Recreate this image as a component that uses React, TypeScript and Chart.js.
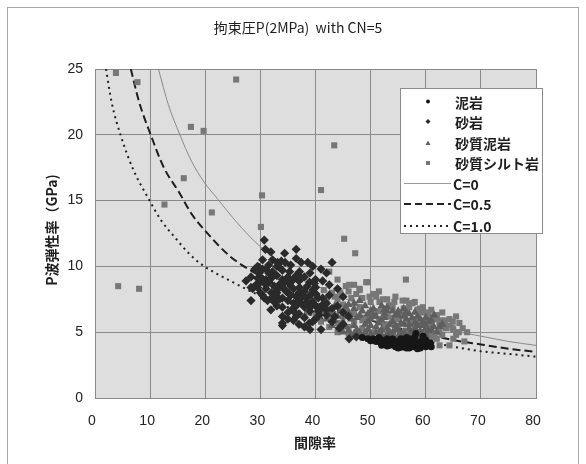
import React, { useEffect, useRef } from "react";
import { Chart, registerables } from "chart.js";
Chart.register(...registerables);

const titleText = "拘束圧P(2MPa)  with CN=5";
const xTitle = "間隙率";
const yTitle = "P波弾性率（GPa)";
const xRange = [0, 80];
const yRange = [0, 25];
const xStep = 10;
const yStep = 5;

const seriesNames = ["泥岩", "砂岩", "砂質泥岩", "砂質シルト岩", "C=0", "C=0.5", "C=1.0"];

// 泥岩
const mudstone: number[][] = [
  [48.5, 4.6], [49.5, 4.5], [50.5, 4.5], [51, 4.3], [51.5, 4.6], [52, 4.4], [52.5, 4.2], [53, 4.5],
  [53.5, 4.3], [54, 4.1], [54, 4.5], [54.5, 3.9], [55, 4.3], [55, 4.0], [55.5, 4.5], [56, 3.9],
  [56, 4.2], [56.5, 4.4], [57, 3.8], [57, 4.1], [57.5, 4.3], [58, 3.9], [58, 4.6], [58.5, 4.1],
  [59, 3.8], [59, 4.3], [59.5, 4.0], [60, 3.9], [60, 4.4], [60.5, 4.1], [61, 3.9], [52, 4.0],
  [53, 3.95], [55.5, 3.85], [57.5, 3.9], [58.5, 3.75], [60.8, 4.2], [50, 4.35], [56.5, 4.6],
  [58.2, 4.9], [59.5, 4.7], [53.5, 4.0], [54.5, 4.3], [56, 4.0], [57, 4.5], [58, 4.2], [59, 4.1],
  [60, 4.15], [55, 3.8], [56.5, 3.8], [51.5, 4.3],
];

// 砂岩
const sandstone: number[][] = [
  [30.7, 12.0], [30.9, 11.3], [31.9, 11.1], [34.4, 11.0], [36.5, 11.3], [37.4, 10.3], [38.6, 10.3],
  [43.0, 10.3], [30.4, 10.5], [32.2, 10.5], [33.1, 10.3], [33.8, 10.4], [28.3, 9.2], [29.8, 9.9],
  [31.0, 9.8], [32.2, 9.6], [34.0, 9.7], [35.3, 9.6], [37.1, 9.6], [29.2, 8.6], [31.6, 8.8],
  [33.4, 8.6], [35.3, 8.7], [37.1, 8.4], [38.9, 8.8], [28.6, 8.3], [28.3, 7.4], [30.7, 7.6],
  [32.8, 7.8], [34.7, 8.1], [36.5, 7.7], [38.3, 7.6], [40.1, 7.9], [31.9, 6.7], [34.0, 6.9],
  [35.9, 6.8], [37.7, 7.1], [39.5, 7.3], [41.3, 7.6], [34.0, 6.2], [36.5, 6.2], [38.9, 5.7],
  [41.0, 5.2], [34.0, 5.5], [29.5, 10.0], [30.4, 9.8], [29.8, 9.5], [27.4, 8.9], [28.3, 8.4],
  [30.4, 7.8], [31.3, 7.4], [29.5, 8.4], [41.3, 8.9], [42.5, 7.8], [41.3, 7.1], [40.7, 6.3],
  [39.5, 5.8], [44.3, 5.3], [46.1, 4.5], [47.4, 4.65], [34.0, 5.7],
  [30, 9.2], [31, 9.0], [32, 9.1], [33, 9.3], [34, 9.0], [35, 9.2], [36, 9.0], [37, 8.9], [38, 9.2],
  [39, 9.5], [40, 9.0], [31, 8.3], [32, 8.0], [33, 8.2], [34, 8.4], [35, 8.0], [36, 8.3], [37, 8.0],
  [38, 8.1], [39, 7.8], [40, 8.4], [30, 8.0], [32.5, 7.3], [33.5, 7.5], [35, 7.4], [36, 7.2],
  [37, 7.4], [38, 6.9], [39, 6.6], [40, 7.0], [41, 6.8], [42, 7.2], [33, 7.0], [35, 6.5], [37, 6.4],
  [38, 6.1], [40, 6.0], [42, 6.3], [43, 6.8], [44, 7.0], [45, 6.5], [36, 5.9], [38, 5.4], [43, 5.8],
  [45, 5.6], [46, 6.2], [31.5, 10.1], [35.5, 10.1], [36.5, 10.6], [39.5, 10.0], [41, 9.8],
  [42, 9.5], [39.8, 8.7], [42.5, 8.6], [44, 8.3], [45, 7.7],
  [29, 9.8], [30.5, 9.0], [31.5, 9.5], [32.5, 8.5], [33.5, 9.9], [34.5, 8.8], [35.5, 8.5],
  [36.5, 9.3], [37.5, 9.1], [38.5, 8.5], [32, 7.6], [33, 8.0], [34, 7.6], [35.5, 7.8], [36.5, 7.0],
  [37.5, 7.7], [38.5, 7.3], [39.5, 8.2], [40.5, 7.6], [31, 8.6], [30, 8.8], [29.5, 9.1], [33, 10.0],
  [34.5, 10.3], [35, 6.0], [36, 6.6], [39, 6.9], [40.5, 6.6], [42, 6.7], [43.5, 6.2], [37, 5.6],
  [39, 5.2],
];

// 砂質泥岩
const sandyMudstone: number[][] = [
  [42, 6.0], [43, 5.5], [44, 6.2], [44.5, 5.2], [45, 5.8], [46, 6.5], [46, 5.1], [47, 5.5],
  [47.5, 6.1], [48, 5.0], [48.5, 6.6], [49, 5.6], [49.5, 5.2], [50, 6.0], [50.5, 6.8], [51, 5.4],
  [51.5, 5.0], [52, 5.9], [52.5, 6.4], [53, 5.3], [53.5, 5.0], [54, 5.8], [54.5, 6.3], [55, 5.2],
  [55.5, 4.9], [56, 5.6], [56.5, 6.0], [57, 5.3], [57.5, 4.9], [58, 5.7], [58.5, 6.2], [59, 5.1],
  [59.5, 5.5], [60, 4.8], [60.5, 5.8], [61, 5.2], [62, 5.0], [45.5, 6.9], [47, 7.2], [49, 7.0],
  [51, 6.2], [53, 6.9], [55, 6.6], [57, 6.4], [60, 6.1], [43.5, 7.0], [41.5, 6.6], [48, 4.7],
  [52, 4.8], [46.5, 4.8],
  [42.5, 6.4], [43.5, 5.9], [44.5, 6.6], [45.5, 5.4], [46.5, 6.0], [47.5, 5.2], [48, 6.3], [49, 5.0],
  [49.5, 6.4], [50, 5.5], [50.5, 6.2], [51.5, 5.7], [52, 5.2], [52.5, 6.1], [53, 6.6], [53.5, 5.6],
  [54, 5.0], [54.5, 5.5], [55, 6.3], [55.5, 5.7], [56, 5.0], [56.5, 6.5], [57, 5.6], [57.5, 6.1],
  [58, 5.2], [58.5, 5.5], [59, 6.0], [59.5, 5.8], [60, 5.3], [60.5, 5.1], [61, 5.9], [61.5, 5.4],
  [62.5, 5.4], [44, 6.9], [46, 7.1], [48, 7.4], [50, 6.6], [52, 7.0], [54, 6.6], [56, 6.2], [58, 6.5],
  [47, 4.9], [50, 4.8], [53, 4.9], [55, 4.7], [57, 4.8], [59, 4.7],
  [43, 6.7], [45, 5.0], [47, 6.8], [49.5, 5.8], [51, 5.0], [52.5, 6.7], [54.5, 5.2], [56, 6.8],
  [58.5, 5.0], [60, 5.5], [61.5, 6.3], [63, 5.6],
];

// 砂質シルト岩
const sandySiltstone: number[][] = [
  [3.8, 24.7], [7.7, 24.0], [25.6, 24.2], [17.4, 20.6], [19.7, 20.3], [16.1, 16.7], [30.3, 15.4],
  [12.6, 14.7], [21.2, 14.1], [30.1, 13.0], [43.4, 19.2], [41.0, 15.8], [45.2, 12.1], [47.2, 11.0],
  [56.4, 9.0], [49.2, 8.8], [42.5, 9.6], [44.0, 9.0], [4.2, 8.5], [8.0, 8.3],
  [46.1, 8.6], [48, 8.3], [49.5, 8.8], [47.4, 7.9], [51, 7.7], [51.6, 7.3], [53.4, 7.05],
  [55.8, 7.4], [57.6, 7.2], [58.9, 6.8], [60.4, 6.4], [62.5, 5.9], [64.3, 6.0], [64.9, 5.3],
  [66.1, 5.7], [45.5, 8.5], [48, 8.2], [49.8, 7.7], [52.2, 7.5], [54.3, 7.3], [57, 7.2], [58.5, 6.7],
  [60.7, 6.2], [62.5, 5.7], [64.9, 5.8], [66.7, 5.3], [63.7, 5.3], [65.5, 4.8], [67, 4.3], [64.3, 4.0],
  [62.5, 4.0], [43, 8.0], [44, 7.5], [42, 7.0], [40.5, 6.5], [41, 5.8], [43, 6.4], [45, 7.1],
  [46.5, 7.6], [48, 6.9], [50, 7.3], [52, 6.6], [54, 6.9], [56, 6.8], [58, 6.0], [59, 6.5], [61, 5.6],
  [62, 6.3], [63, 4.8], [61.5, 4.6], [46, 5.4], [48.5, 5.9], [50.5, 5.0], [53, 5.6], [55, 6.0],
  [57, 5.8], [59.5, 5.0], [54, 4.8], [56.5, 5.1], [44, 5.0], [42.5, 5.4], [65.5, 6.2], [67.5, 5.0],
  [63, 6.5], [40, 6.3], [39.5, 7.5], [41.5, 8.2], [38.5, 6.5],
  [44.5, 8.0], [46, 8.1], [47, 8.6], [48.5, 7.6], [50.5, 7.9], [51.5, 8.1], [53, 7.5], [54.5, 7.7],
  [56.5, 7.4], [58, 7.3], [59.5, 6.9], [61, 6.7], [62, 6.1], [63.5, 5.9], [64.5, 5.5], [66, 5.0],
  [65, 4.5], [62, 4.5], [60.5, 4.7], [45, 6.2], [47, 6.4], [49, 6.1], [51, 6.6], [53, 6.2], [55, 5.5],
  [57, 6.9], [60, 5.7], [61.5, 6.0], [43.5, 7.7], [42, 7.5],
  [41, 6.9], [42.5, 6.1], [44, 5.7], [45.5, 6.6], [47, 5.8], [48.5, 5.3], [50, 6.3], [51.5, 6.0],
  [52.5, 5.5], [54, 6.1], [55.5, 6.5], [56.5, 5.6], [58, 5.4], [59, 5.6], [60, 6.5], [61, 5.0],
  [62.5, 5.0], [63.5, 5.5], [65, 5.2], [46, 4.9], [49, 4.8],
];

// curves
const curveC0: number[][] = [
  [11.5, 25], [13.3, 22.3], [15.4, 20], [17.5, 18], [19.8, 16.4], [22.3, 15.1], [25, 13.7],
  [28, 12.3], [30, 11.5], [35, 9.9], [40, 8.6], [45, 7.6], [50, 6.8], [55, 6.1], [60, 5.5],
  [65, 5.1], [70, 4.7], [75, 4.3], [80, 4.0],
];
const curveC05: number[][] = [
  [6.5, 25], [8, 22.5], [10.2, 19.9], [12.5, 17.5], [15.3, 15.6], [17.5, 14], [20, 12.7],
  [24.4, 10.8], [29.2, 9.45], [35, 8.1], [40, 7.2], [45, 6.5], [50, 5.9], [55, 5.3], [60.7, 4.8],
  [65, 4.4], [70, 4.07], [75, 3.75], [80, 3.5],
];
const curveC10: number[][] = [
  [2, 25], [3, 22.5], [4.7, 19.9], [7, 17.3], [9.5, 15.3], [12, 13.5], [14.7, 12.1], [17, 11],
  [19.5, 10.1], [25, 8.8], [29.8, 7.8], [35, 6.9], [40, 6.2], [45, 5.6], [50, 5.1], [55, 4.7],
  [60, 4.3], [65, 3.9], [70, 3.55], [75, 3.35], [80, 3.14],
];

const toXY = (a: number[][]) => a.map(([x, y]) => ({ x, y }));

const JP = '"Noto Sans CJK JP", sans-serif';
const NUM = '"Liberation Sans", Arial, sans-serif';

const markerColors = ["#161616", "#2a2a2a", "#5e5e5e", "#777777"];

const framePlugin = {
  id: "frame",
  beforeDraw(chart: any) {
    const { ctx, chartArea: a } = chart;
    ctx.save();
    ctx.fillStyle = "#ffffff";
    ctx.fillRect(0, 0, chart.width, chart.height);
    ctx.strokeStyle = "#a8a8a8";
    ctx.lineWidth = 1;
    ctx.strokeRect(7.5, 7.5, 571, 480);
    ctx.fillStyle = "#dedede";
    ctx.fillRect(a.left, a.top, a.right - a.left, a.bottom - a.top);
    ctx.restore();
  },
  afterDraw(chart: any) {
    const { ctx } = chart;
    ctx.save();
    ctx.fillStyle = "#1e1e1e";
    ctx.textAlign = "center";
    ctx.textBaseline = "middle";
    ctx.font = `14px ${JP}`;
    ctx.fillText(titleText, 298, 28);
    ctx.font = `bold 14px ${JP}`;
    ctx.fillText(xTitle, 315, 443);
    ctx.save();
    ctx.translate(52, 230);
    ctx.rotate(-Math.PI / 2);
    ctx.fillText(yTitle, 0, 0);
    ctx.restore();

    // legend
    const bx = 400.5, by = 88.5, bw = 142, bh = 145;
    ctx.fillStyle = "#ffffff";
    ctx.fillRect(bx, by, bw, bh);
    ctx.strokeStyle = "#8c8c8c";
    ctx.strokeRect(bx, by, bw, bh);
    const rowsY = [101.5, 121.5, 143, 163, 183.5, 204, 226];
    ctx.textAlign = "left";
    ctx.font = `bold 14px ${JP}`;
    seriesNames.forEach((name, i) => {
      const y = rowsY[i];
      const mx = 428;
      ctx.fillStyle = i < 4 ? markerColors[i] : "#222";
      if (i === 0) {
        ctx.beginPath(); ctx.arc(mx, y, 2, 0, Math.PI * 2); ctx.fill();
      } else if (i === 1) {
        ctx.beginPath(); ctx.moveTo(mx, y - 2.5); ctx.lineTo(mx + 2.5, y); ctx.lineTo(mx, y + 2.5); ctx.lineTo(mx - 2.5, y); ctx.closePath(); ctx.fill();
      } else if (i === 2) {
        ctx.beginPath(); ctx.moveTo(mx, y - 2.5); ctx.lineTo(mx + 2.5, y + 2); ctx.lineTo(mx - 2.5, y + 2); ctx.closePath(); ctx.fill();
      } else if (i === 3) {
        ctx.fillRect(mx - 2, y - 2, 4, 4);
      } else {
        ctx.save();
        if (i === 4) { ctx.strokeStyle = "#9a9a9a"; ctx.lineWidth = 1; ctx.setLineDash([]); }
        if (i === 5) { ctx.strokeStyle = "#222"; ctx.lineWidth = 2; ctx.setLineDash([7, 4]); }
        if (i === 6) { ctx.strokeStyle = "#222"; ctx.lineWidth = 2; ctx.setLineDash([2, 4]); }
        ctx.beginPath(); ctx.moveTo(404, y); ctx.lineTo(451, y); ctx.stroke();
        ctx.restore();
      }
      ctx.fillStyle = "#1e1e1e";
      ctx.fillText(name, i < 4 ? 455 : 453, y + 1);
    });
    ctx.restore();
  },
};

export default function App() {
  const ref = useRef<HTMLCanvasElement>(null);
  useEffect(() => {
    if (!ref.current) return;
    const pointDs = (label: string, data: number[][], style: string, r: number, color: string) => ({
      type: "scatter" as const,
      label,
      data: toXY(data),
      pointStyle: style,
      pointRadius: r,
      pointBackgroundColor: color,
      pointBorderColor: color,
      pointBorderWidth: 0,
      showLine: false,
    });
    const lineDs = (label: string, data: number[][], color: string, width: number, dash: number[]) => ({
      type: "line" as const,
      label,
      data: toXY(data),
      borderColor: color,
      borderWidth: width,
      borderDash: dash,
      pointRadius: 0,
      fill: false,
      cubicInterpolationMode: "monotone" as const,
    });
    const chart = new Chart(ref.current, {
      type: "scatter",
      data: {
        datasets: [
          pointDs(seriesNames[0], mudstone, "circle", 3.5, markerColors[0]),
          pointDs(seriesNames[1], sandstone, "rectRot", 4.6, markerColors[1]),
          pointDs(seriesNames[2], sandyMudstone, "triangle", 4.8, markerColors[2]),
          pointDs(seriesNames[3], sandySiltstone, "rect", 4.3, markerColors[3]),
          lineDs(seriesNames[4], curveC0, "#8a8a8a", 1, []),
          lineDs(seriesNames[5], curveC05, "#1e1e1e", 2, [8, 4]),
          lineDs(seriesNames[6], curveC10, "#1e1e1e", 2, [2, 4]),
        ] as any,
      },
      options: {
        responsive: false,
        animation: false,
        layout: { padding: { left: 0, right: 50, top: 69, bottom: 0 } },
        plugins: { legend: { display: false }, title: { display: false }, tooltip: { enabled: false } },
        scales: {
          x: {
            type: "linear",
            min: xRange[0],
            max: xRange[1],
            afterFit: (s: any) => { s.height = 66; },
            ticks: { stepSize: xStep, padding: 15, color: "#222", font: { family: NUM, size: 14 }, labelOffset: -3 },
            grid: { color: "#8a8a8a", lineWidth: 1, drawTicks: false },
            border: { color: "#8a8a8a" },
          },
          y: {
            type: "linear",
            min: yRange[0],
            max: yRange[1],
            afterFit: (s: any) => { s.width = 95; },
            ticks: { stepSize: yStep, padding: 12, color: "#222", font: { family: NUM, size: 14 } },
            grid: { color: "#8a8a8a", lineWidth: 1, drawTicks: false },
            border: { color: "#8a8a8a" },
          },
        },
      },
      plugins: [framePlugin],
    });
    return () => chart.destroy();
  }, []);
  return (
    <div style={{ position: "absolute", left: 0, top: 0, width: 586, height: 464 }}>
      <canvas ref={ref} width={586} height={464} style={{ width: 586, height: 464 }} />
    </div>
  );
}
